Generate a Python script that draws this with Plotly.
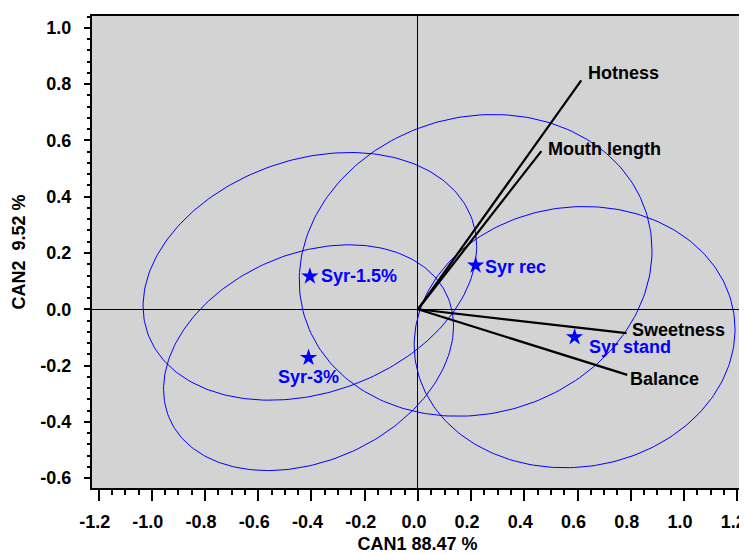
import numpy as np
import plotly.graph_objects as go

# ---- data ----
groups = ["Syr-1.5%", "Syr rec", "Syr-3%", "Syr stand"]
can1 = [-0.406, 0.217, -0.411, 0.589]
can2 = [0.117, 0.156, -0.172, -0.099]

# confidence ellipses: half extent along CAN1, half extent along CAN2, correlation
ell_rx = [0.627, 0.663, 0.545, 0.603]
ell_ry = [0.440, 0.536, 0.401, 0.464]
ell_rho = [0.24, 0.10, 0.28, 0.06]

variables = ["Hotness", "Mouth length", "Sweetness", "Balance"]
vec_x = [0.614, 0.464, 0.784, 0.787]
vec_y = [0.813, 0.562, -0.085, -0.233]

x_ticks = [-1.2, -1.0, -0.8, -0.6, -0.4, -0.2, 0.0, 0.2, 0.4, 0.6, 0.8, 1.0, 1.2]
y_ticks = [-0.6, -0.4, -0.2, 0.0, 0.2, 0.4, 0.6, 0.8, 1.0]

BLUE = "#0000ff"
FONT = "Liberation Sans, Arial, sans-serif"
FS = 18

fig = go.Figure()

# ellipses
t = np.linspace(0, 2 * np.pi, 241)
for cx, cy, rx, ry, rho in zip(can1, can2, ell_rx, ell_ry, ell_rho):
    ex = cx + rx * np.cos(t)
    ey = cy + ry * (rho * np.cos(t) + np.sqrt(1 - rho ** 2) * np.sin(t))
    fig.add_trace(go.Scatter(x=ex, y=ey, mode="lines",
                             line=dict(color=BLUE, width=1),
                             hoverinfo="skip", showlegend=False))

# vectors
vx, vy = [], []
for a, b in zip(vec_x, vec_y):
    vx += [0, a, None]
    vy += [0, b, None]
fig.add_trace(go.Scatter(x=vx, y=vy, mode="lines",
                         line=dict(color="black", width=2.2),
                         hoverinfo="skip", showlegend=False))

# group means
fig.add_trace(go.Scatter(x=can1, y=can2, mode="markers",
                         marker=dict(symbol="star", size=13, color=BLUE, line=dict(width=0)),
                         showlegend=False))

# group labels
grp_shift = [(9, 0, "left"), (7, -2, "left"), (0, -19, "center"), (12, -10, "left")]
for name, x, y, (dx, dy, anc) in zip(groups, can1, can2, grp_shift):
    fig.add_annotation(x=x, y=y, text=name, showarrow=False, xanchor=anc, yanchor="middle",
                       xshift=dx, yshift=dy,
                       font=dict(family=FONT, size=FS, color=BLUE, weight="bold"))

# variable labels
var_shift = [(5, 7), (5, 2), (4, 3), (1, -4)]
for name, x, y, (dx, dy) in zip(variables, vec_x, vec_y, var_shift):
    fig.add_annotation(x=x, y=y, text=name, showarrow=False, xanchor="left", yanchor="middle",
                       xshift=dx, yshift=dy,
                       font=dict(family=FONT, size=FS, color="black", weight="bold"))

axis_common = dict(
    automargin=False,
    showgrid=False,
    zeroline=True, zerolinecolor="black", zerolinewidth=1,
    showline=True, linecolor="black", linewidth=2, mirror=True,
    ticks="outside", tickcolor="black", tickwidth=1.5,
    ticklabeloverflow="allow",
    tickfont=dict(family=FONT, size=FS, color="black", weight="bold"),
)

fig.update_xaxes(
    range=[-1.225, 1.222], tickvals=x_ticks, ticktext=[f"{v:.1f}" for v in x_ticks],
    ticklen=11, ticklabelstandoff=5, ticklabelshift=-4,
    minor=dict(dtick=0.05, tick0=0, ticks="outside", ticklen=5, tickcolor="black", showgrid=False),
    title=dict(text="CAN1 88.47 %", standoff=10,
               font=dict(family=FONT, size=FS, color="black", weight="bold")),
    **axis_common,
)
fig.update_yaxes(
    range=[-0.635, 1.042], tickvals=y_ticks, ticktext=[f"{v:.1f}" for v in y_ticks],
    ticklen=6, ticklabelstandoff=9,
    minor=dict(dtick=0.04, tick0=0, ticks="outside", ticklen=3, tickcolor="black", showgrid=False),
    title=dict(text="CAN2\u00a0 9.52 %", standoff=10,
               font=dict(family=FONT, size=FS, color="black", weight="bold")),
    **axis_common,
)

# the page adds an 8px body margin, so the figure is 8px smaller than the window
fig.update_layout(
    width=739, height=546,
    margin=dict(l=84, r=3.5, t=7.5, b=66.3),
    plot_bgcolor="#d3d3d3", paper_bgcolor="white",
    showlegend=False,
)

fig.write_html("out.html")
